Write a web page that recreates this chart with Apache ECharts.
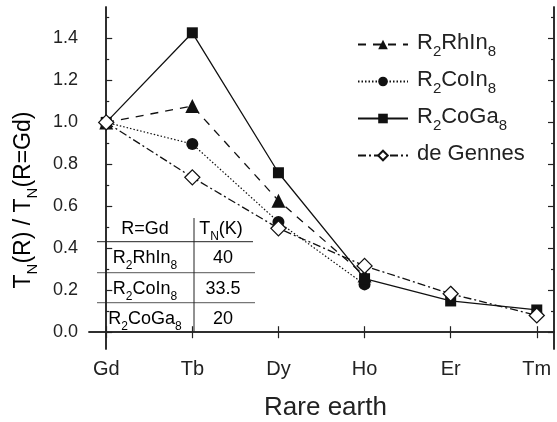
<!DOCTYPE html>
<html>
<head>
<meta charset="utf-8">
<script src="https://cdn.jsdelivr.net/npm/echarts@6/dist/echarts.min.js"></script>
<style>html,body{margin:0;padding:0;background:#fff}#c{width:557px;height:422px}</style>
</head>
<body>
<div id="c"></div>
<script>
var categories = ['Gd', 'Tb', 'Dy', 'Ho', 'Er', 'Tm'];
var rhIn8 = [1.0, 1.078, 0.627, 0.27];
var coIn8 = [1.0, 0.897, 0.525, 0.228];
var coGa8 = [1.0, 1.427, 0.76, 0.255, 0.149, 0.106];
var deGennes = [1.0, 0.738, 0.495, 0.316, 0.183, 0.08];
var yTicks = [0, 0.2, 0.4, 0.6, 0.8, 1.0, 1.2, 1.4];
var yMinor = [0.1, 0.3, 0.5, 0.7, 0.9, 1.1, 1.3, 1.5];
var tableCompounds = ['R2RhIn8', 'R2CoIn8', 'R2CoGa8'];
var tableTN = ['40', '33.5', '20'];

var FONT = '"Liberation Sans", Arial, sans-serif';
var richSub = {
  n: {fontSize: 22, fontFamily: FONT, color: '#222', verticalAlign: 'top', lineHeight: 25},
  s: {fontSize: 15, fontFamily: FONT, color: '#222', verticalAlign: 'top', lineHeight: 15, padding: [12, 0, 0, 0]}
};
var richTitle = {
  n: {fontSize: 23, fontFamily: FONT, color: '#222', verticalAlign: 'top', lineHeight: 26},
  s: {fontSize: 15, fontFamily: FONT, color: '#222', verticalAlign: 'top', lineHeight: 15, padding: [13, 0, 0, 0]}
};
var richTab = {
  n: {fontSize: 18, fontFamily: FONT, color: '#222', verticalAlign: 'top', lineHeight: 21},
  s: {fontSize: 12, fontFamily: FONT, color: '#222', verticalAlign: 'top', lineHeight: 12, padding: [11, 0, 0, 0]}
};
function sub(name) {
  return name.replace(/(\d+)/g, '}{s|$1}{n|').replace(/^/, '{n|') + '}';
}
function pts(arr) { return arr.map(function (v, i) { return [i, v]; }); }

var chart = echarts.init(document.getElementById('c'));
var xIdx = categories.map(function (c, i) { return i; });
var axisLineStyle = {color: '#222', width: 1.5};
var baseX = {
  type: 'value', min: -0.2, max: 5.2, splitLine: {show: false},
  axisLine: {show: true, lineStyle: axisLineStyle}
};
var baseY = {
  type: 'value', min: -0.08, max: 1.55, splitLine: {show: false},
  axisLine: {show: true, lineStyle: axisLineStyle}
};

var g = [];
var tL = 97, tR = 253, tV = 194, tTop = 218;
var rowY = [241.7, 272.7, 302.7];
g.push({type: 'line', shape: {x1: tL, y1: rowY[0], x2: tR, y2: rowY[0]}, style: {stroke: '#222', lineWidth: 1}});
g.push({type: 'line', shape: {x1: tL, y1: rowY[1], x2: tR + 2, y2: rowY[1]}, style: {stroke: '#777', lineWidth: 1.2}});
g.push({type: 'line', shape: {x1: tL, y1: rowY[2], x2: tR + 2, y2: rowY[2]}, style: {stroke: '#777', lineWidth: 1.2}});
g.push({type: 'line', shape: {x1: tV, y1: tTop, x2: tV, y2: 332}, style: {stroke: '#222', lineWidth: 1}});
g.push({type: 'text', x: 145, y: 220, style: {text: '{n|R=Gd}', rich: richTab, align: 'center'}});
g.push({type: 'text', x: 221, y: 220, style: {text: '{n|T}{s|N}{n|(K)}', rich: richTab, align: 'center'}});
for (var i = 0; i < tableCompounds.length; i++) {
  var yy = rowY[i] + 7;
  g.push({type: 'text', x: 145, y: yy, style: {text: sub(tableCompounds[i]), rich: richTab, align: 'center'}});
  g.push({type: 'text', x: 223, y: yy, style: {text: '{n|' + tableTN[i] + '}', rich: richTab, align: 'center'}});
}
g.push({type: 'text', x: 12, y: 200, rotation: Math.PI / 2,
  style: {text: '{n|T}{s|N}{n|(R) / T}{s|N}{n|(R=Gd)}', rich: richTitle, align: 'center', verticalAlign: 'top'}});

var option = {
  backgroundColor: '#fff',
  animation: false,
  grid: {left: 89, right: 3, top: 7, bottom: 73, outerBoundsMode: 'none', containLabel: false},
  legend: {
    left: 352, top: 27, orient: 'vertical', itemWidth: 50, itemHeight: 12, itemGap: 10,
    data: ['R2RhIn8', 'R2CoIn8', 'R2CoGa8', 'de Gennes'],
    formatter: function (name) { return name === 'de Gennes' ? '{n|de Gennes}' : sub(name); },
    textStyle: {rich: richSub, fontSize: 22, fontFamily: FONT, color: '#222', padding: [0, 0, 0, 4]}
  },
  xAxis: [
    Object.assign({}, baseX, {
      position: 'bottom',
      name: 'Rare earth', nameLocation: 'middle', nameGap: 46,
      nameTextStyle: {fontSize: 26, fontFamily: FONT, color: '#222', padding: [0, 0, 0, 8]},
      axisTick: {show: true, inside: true, length: 6, customValues: xIdx, lineStyle: {color: '#222', width: 1.2}},
      axisLabel: {show: true, customValues: xIdx, margin: 10, fontSize: 20, fontFamily: FONT, color: '#222',
        formatter: function (v) { return categories[Math.round(v)]; }}
    }),
    Object.assign({}, baseX, {
      position: 'top',
      axisTick: {show: true, inside: true, length: 6, customValues: xIdx, lineStyle: {color: '#222', width: 1.2}},
      axisLabel: {show: false}
    })
  ],
  yAxis: [
    Object.assign({}, baseY, {
      position: 'left',
      axisTick: {show: true, inside: true, length: 6, customValues: yTicks, lineStyle: {color: '#222', width: 1.2}},
      axisLabel: {show: true, customValues: yTicks, margin: 11, fontSize: 18, fontFamily: FONT, color: '#222',
        formatter: function (v) { return v.toFixed(1); }}
    }),
    Object.assign({}, baseY, {
      position: 'left',
      axisTick: {show: true, inside: true, length: 3, customValues: yMinor, lineStyle: {color: '#222', width: 1.2}},
      axisLabel: {show: false}
    }),
    Object.assign({}, baseY, {
      position: 'right',
      axisTick: {show: true, inside: true, length: 6, customValues: yTicks, lineStyle: {color: '#222', width: 1.2}},
      axisLabel: {show: false}
    }),
    Object.assign({}, baseY, {
      position: 'right',
      axisTick: {show: true, inside: true, length: 3, customValues: yMinor, lineStyle: {color: '#222', width: 1.2}},
      axisLabel: {show: false}
    })
  ],
  series: [
    {name: 'R2RhIn8', type: 'line', data: pts(rhIn8), symbol: 'triangle', symbolSize: 14,
      itemStyle: {color: '#111'}, lineStyle: {color: '#111', width: 1.3, type: [8, 7]}, z: 3},
    {name: 'R2CoIn8', type: 'line', data: pts(coIn8), symbol: 'circle', symbolSize: 12,
      itemStyle: {color: '#111'}, lineStyle: {color: '#111', width: 1.2, type: [1.5, 2]}, z: 3},
    {name: 'R2CoGa8', type: 'line', data: pts(coGa8), symbol: 'rect', symbolSize: 11,
      itemStyle: {color: '#111'}, lineStyle: {color: '#111', width: 1.3, type: 'solid'}, z: 3},
    {name: 'de Gennes', type: 'line', data: pts(deGennes), symbol: 'diamond', symbolSize: 15,
      itemStyle: {color: '#fff', borderColor: '#111', borderWidth: 1.3},
      lineStyle: {color: '#111', width: 1.3, type: [8, 3, 2, 3]}, z: 4}
  ],
  graphic: g
};
chart.setOption(option);
</script>
</body>
</html>
